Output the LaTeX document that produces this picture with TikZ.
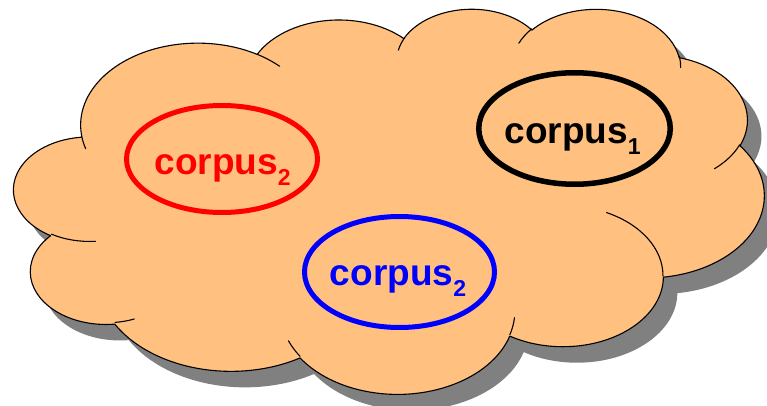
\documentclass[tikz,border=0pt]{standalone}
\usepackage{tikz}
\usepackage{fontspec}
\setmainfont{Liberation Sans}
\usetikzlibrary{shapes.geometric}
\definecolor{cloudfill}{RGB}{255,192,128}
\definecolor{cloudshadow}{RGB}{128,128,128}
% arcs of the cloud: width radius, height radius, start angle, sweep (visual angles)
\newcommand\cldset[5]{%
  \pgfmathsetmacro\cldtmpS{atan2((#2)*sin(#4),(#3)*cos(#4))}%
  \pgfmathsetmacro\cldtmpE{atan2((#2)*sin(#4+#5),(#3)*cos(#4+#5))}%
  \pgfmathsetmacro\cldtmpD{mod(\cldtmpE-\cldtmpS+720,360)}%
  \expandafter\xdef\csname cldS#1\endcsname{\cldtmpS}%
  \expandafter\xdef\csname cldD#1\endcsname{\cldtmpD}%
  \expandafter\xdef\csname cldW#1\endcsname{#2}%
  \expandafter\xdef\csname cldH#1\endcsname{#3}%
}
\cldset{1}{67.53}{91.90}{-190.4875}{123.7805}
\cldset{2}{53.33}{72.67}{-144.1024}{89.9452}
\cldset{3}{43.65}{59.45}{-145.8079}{99.7230}
\cldset{4}{48.57}{65.95}{-130.9861}{117.2417}
\cldset{5}{53.33}{72.73}{-78.7089}{109.0269}
\cldset{6}{67.75}{92.20}{-46.2673}{130.2690}
\cldset{7}{57.85}{78.67}{0.6250}{114.0333}
\cldset{8}{67.52}{92.15}{22.4516}{115.1726}
\cldset{9}{77.20}{105.43}{66.2426}{75.7110}
\cldset{10}{43.60}{59.18}{-274.9421}{146.7356}
\cldset{11}{43.45}{59.45}{-246.8285}{152.5234}
\cldset{i1}{43.45}{59.45}{86.7420}{26.4295}
\cldset{i2}{43.60}{59.18}{73.6105}{11.4475}
\cldset{i3}{67.52}{92.15}{137.6242}{14.0811}
\cldset{i4}{67.52}{92.15}{6.4533}{15.9984}
\cldset{i5}{57.85}{78.67}{-70.2924}{70.9174}
\cldset{i6}{53.33}{72.73}{30.3180}{27.7515}
\cldset{i7}{48.57}{65.95}{-13.7443}{14.8589}
\cldset{i8}{48.57}{65.95}{-149.1815}{18.1954}
\cldset{i9}{43.65}{59.45}{-163.4943}{17.6864}
\cldset{i10}{67.53}{91.90}{-66.7070}{12.3194}
\cldset{i11}{67.53}{91.90}{157.643}{11.870}
\tikzset{
  carc/.style={x radius=\csname cldW#1\endcsname, y radius=\csname cldH#1\endcsname,
    start angle=\csname cldS#1\endcsname, delta angle=\csname cldD#1\endcsname},
  cloudline/.style={line width=1.1pt, line join=round, line cap=round},
  ring/.style={ellipse, inner sep=0pt, outer sep=0pt},
  label text/.style={font=\bfseries\fontsize{37}{42}\selectfont, anchor=base, inner sep=0pt}
}
\newcommand\subtxt[1]{\raisebox{-11pt}{\fontsize{23}{23}\selectfont #1}}
\def\cloudpath{(39.00,143.70) arc[carc=1] arc[carc=2] arc[carc=3] arc[carc=4]
  arc[carc=5] arc[carc=6] arc[carc=7] arc[carc=8] arc[carc=9] arc[carc=10]
  arc[carc=11] -- cycle}
\begin{document}
\begin{tikzpicture}[x=1pt, y=-1pt]
\useasboundingbox (0,0) rectangle (767,406);
\begin{scope}[shift={(14,8)}, x=1.73611pt, y=-0.891204pt]
  \fill[cloudshadow, xshift=14pt, yshift=-16pt] \cloudpath;
  \filldraw[fill=cloudfill, draw=black, cloudline] \cloudpath;
  \draw[cloudline]
    (46.93,261.77) arc[carc=i1]
    (69.28,348.99) arc[carc=i2]
    (164.78,390.90) arc[carc=i3]
    (288.27,347.51) arc[carc=i4]
    (341.29,229.54) arc[carc=i5]
    (417.98,153.54) arc[carc=i6]
    (383.24,54.26) arc[carc=i7]
    (290.78,39.52) arc[carc=i8]
    (221.41,47.20) arc[carc=i9]
    (140.00,51.92) arc[carc=i10]
    (41.27,157.89) arc[carc=i11];
\end{scope}
\node[ring, draw=red, line width=5pt, minimum width=191pt, minimum height=107pt] (e2) at (222,159) {};
\node[ring, draw=black, line width=5.5pt, minimum width=191.5pt, minimum height=111.5pt] (e1) at (574.5,128.5) {};
\node[ring, draw=blue, line width=5pt, minimum width=190pt, minimum height=111pt] (e3) at (399.5,272) {};
\node[label text, text=red] (t2) at (222.5,175) {corpus\subtxt{2}};
\node[label text, text=black] (t1) at (572.5,143) {corpus\subtxt{1}};
\node[label text, text=blue] (t3) at (398,285) {corpus\subtxt{2}};
\end{tikzpicture}
\end{document}
